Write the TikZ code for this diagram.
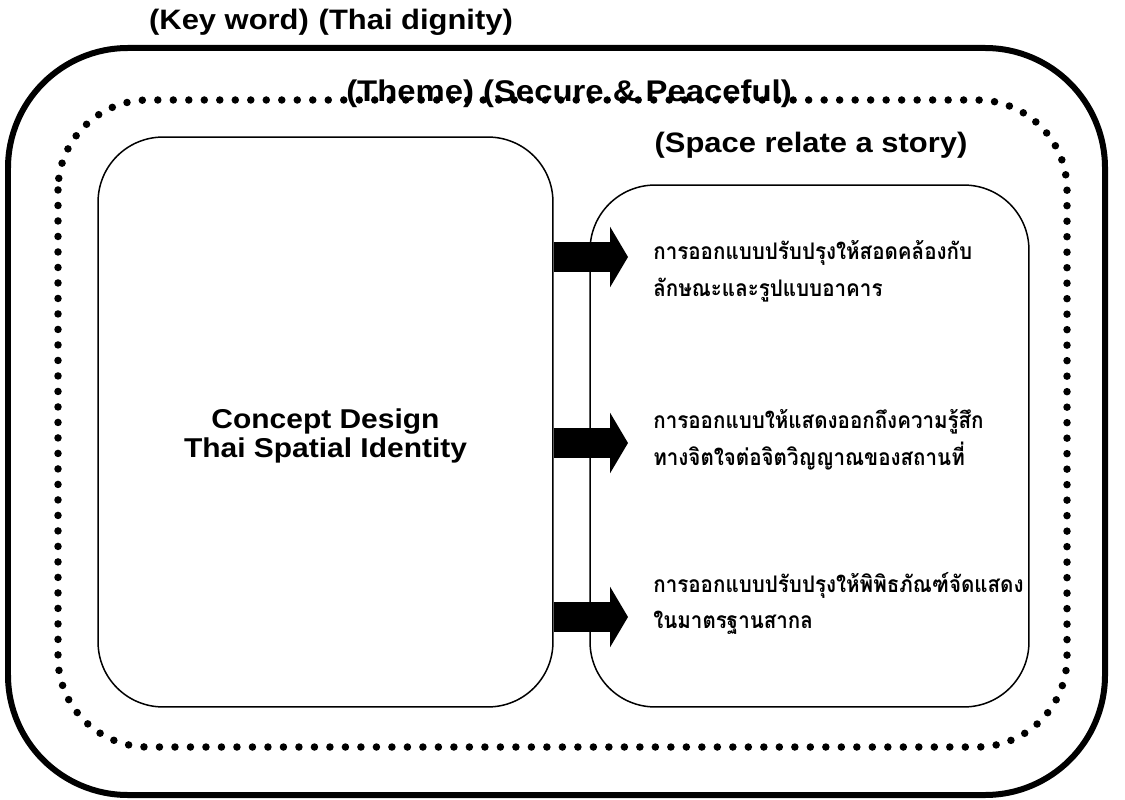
\documentclass[tikz,border=0pt]{standalone}
\usepackage{fontspec}
\setmainfont{Liberation Sans}[FakeStretch=1.1]
\newfontfamily\thaifont[Script=Thai,FakeStretch=0.9]{Loma}
\usetikzlibrary{arrows.meta,positioning}

\begin{document}
\begin{tikzpicture}[x=0.02cm,y=-0.02cm,
    roundbox/.style={draw, line width=0.03cm, rounded corners=1.3cm, inner sep=0pt},
    title/.style={font=\bfseries\fontsize{16}{19}\selectfont},
    thaitext/.style={anchor=west, align=left, inner sep=0pt,
        font=\thaifont\bfseries\fontsize{13}{21}\selectfont},
    bigarrow/.style={line width=0.6cm, -{Triangle[length=0.36cm,width=1.2cm]}}]

% Canvas size in pixels of the original (1125 x 800), y going down
\path[use as bounding box] (0,0) rectangle (1125,800);

% --- Frames ---
% Outer solid frame (Key word)
\draw[line width=0.12cm, rounded corners=2.4cm] (8,48) rectangle (1105,795);
% Inner dotted frame (Theme)
\draw[line width=0.15cm, line cap=round, dash pattern=on 0pt off 0.31cm,
    rounded corners=1.8cm] (58,100) rectangle (1067,747);

% --- Titles ---
\node[title] (keyWord) at (331,22) {(Key word)\hspace{0.35em}(Thai dignity)};
\node[title, font=\bfseries\fontsize{17}{20}\selectfont] (theme) at (569,94)
    {(Theme) (Secure \& Peaceful)};
\node[title] (storyTitle) at (811,145) {(Space relate a story)};

% --- Boxes ---
\node[roundbox, minimum width=9.1cm, minimum height=11.4cm] (conceptBox)
    at (325.5,422) {};
\node[align=center, font=\bfseries\fontsize{15.5}{16}\selectfont] (conceptText)
    at (325.5,436) {Concept Design\\Thai Spatial Identity};
\node[roundbox, minimum width=8.78cm, minimum height=10.44cm] (storyBox)
    at (809.5,446) {};

% Arrow tips
\coordinate (tipOne)   at (628,257);
\coordinate (tipTwo)   at (628,443);
\coordinate (tipThree) at (628,617);

% --- Story items ---
\node[thaitext] (itemOne) at (653,271.5)
    {การออกแบบปรับปรุงให้สอดคล้องกับ\\ลักษณะและรูปแบบอาคาร};
\node[thaitext] (itemTwo) at (653,440)
    {การออกแบบให้แสดงออกถึงความรู้สึก\\ทางจิตใจต่อจิตวิญญาณของสถานที่};
\node[thaitext] (itemThree) at (653,603.5)
    {การออกแบบปรับปรุงให้พิพิธภัณฑ์จัดแสดง\\ในมาตรฐานสากล};

% --- Arrows ---
\draw[bigarrow] (conceptBox.east |- tipOne) -- (tipOne);
\draw[bigarrow] (conceptBox.east |- tipTwo) -- (tipTwo);
\draw[bigarrow] (conceptBox.east |- tipThree) -- (tipThree);

\end{tikzpicture}
\end{document}
